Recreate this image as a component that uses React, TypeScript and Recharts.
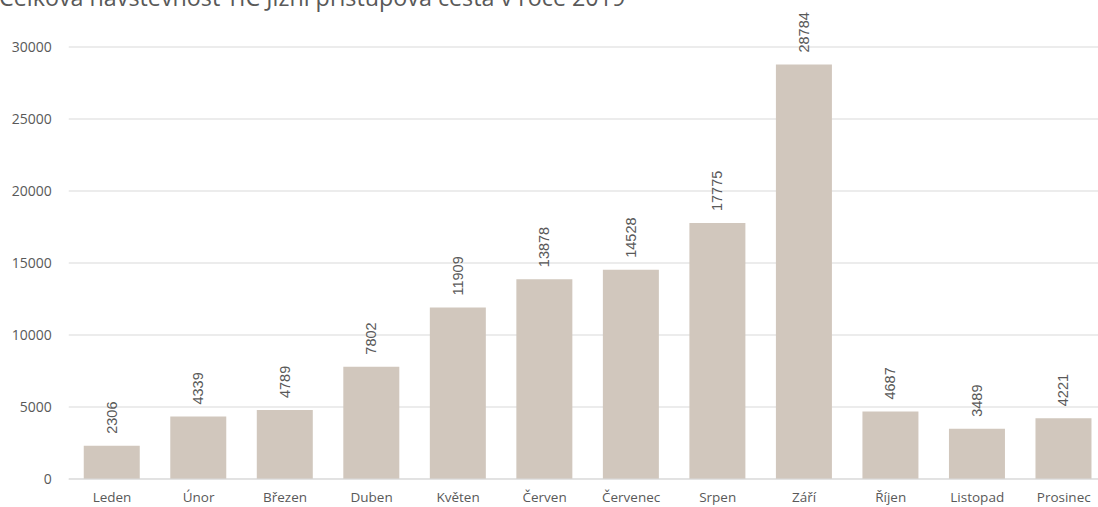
import { BarChart, Bar, XAxis, YAxis, CartesianGrid, LabelList } from 'recharts'

const months = ['Leden', 'Únor', 'Březen', 'Duben', 'Květen', 'Červen', 'Červenec', 'Srpen', 'Září', 'Říjen', 'Listopad', 'Prosinec']
const visitors = [2306, 4339, 4789, 7802, 11909, 13878, 14528, 17775, 28784, 4687, 3489, 4221]
const yTicks = [0, 5000, 10000, 15000, 20000, 25000, 30000]

const title = 'Celková návštěvnost TIC Jižní přístupová cesta v roce 2019'

const data = months.map((month, i) => ({ month, visitors: visitors[i] }))

const textColor = '#595959'

function RotatedLabel(props: any) {
  const { x, y, width, value } = props
  const cx = x + width / 2
  const ty = y - 12
  return (
    <text
      x={cx}
      y={ty}
      transform={`rotate(-90 ${cx} ${ty})`}
      textAnchor="start"
      dominantBaseline="central"
      fill={textColor}
      fontSize={14.5}
      fontFamily="'Liberation Sans', Arial, sans-serif"
    >
      {value}
    </text>
  )
}

export default function App() {
  return (
    <div style={{ position: 'absolute', left: 0, top: 0, width: 1098, height: 507, overflow: 'hidden', background: '#fff' }}>
      <BarChart
        width={1107}
        height={507}
        data={data}
        margin={{ top: 47, right: 0, bottom: 0, left: 0 }}
      >
        {/* title is clipped at the top edge in the original */}
        <text x={-1} y={6} fill={textColor} fontSize={23.3} fontFamily="'Open Sans', sans-serif">
          {title}
        </text>
        <CartesianGrid vertical={false} stroke="#d9d9d9" />
        <XAxis
          dataKey="month"
          height={28}
          axisLine={{ stroke: '#d9d9d9' }}
          tickLine={false}
          tickSize={0}
          tickMargin={13}
          interval={0}
          tick={{ fontSize: 13.5, fill: textColor, fontFamily: "'Open Sans', sans-serif" }}
        />
        <YAxis
          width={68.75}
          domain={[0, 30000]}
          ticks={yTicks}
          axisLine={false}
          tickLine={false}
          tickSize={0}
          tickMargin={17}
          tick={{ fontSize: 14, fill: textColor, fontFamily: "'Open Sans', sans-serif" }}
        />
        <Bar dataKey="visitors" fill="#d1c7bd" barSize={56} isAnimationActive={false}>
          <LabelList dataKey="visitors" content={RotatedLabel} />
        </Bar>
      </BarChart>
    </div>
  )
}
